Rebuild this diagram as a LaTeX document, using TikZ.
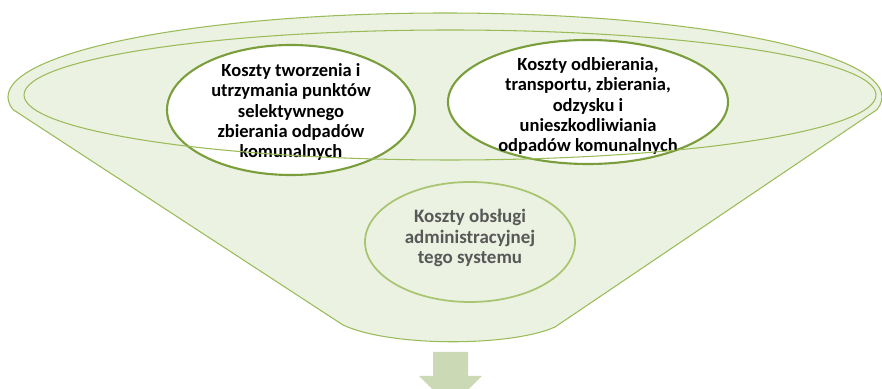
\documentclass[tikz,border=0pt]{standalone}
\usepackage{fontspec}
\setmainfont{Carlito}
\usepackage{tikz}
\usetikzlibrary{calc,shapes.geometric}
\definecolor{olivegreen}{RGB}{155,187,89}
\definecolor{darkolive}{RGB}{122,158,60}
\definecolor{funnelfill}{RGB}{235,242,225}
\definecolor{arrowgreen}{RGB}{203,217,180}
\definecolor{softgray}{RGB}{88,88,88}
\tikzset{
  rim/.style={line width=0.9pt,draw=olivegreen},
  bubble/.style={ellipse,draw=darkolive,fill=white,line width=1.8pt,inner sep=0pt},
  fadedbubble/.style={ellipse,draw=olivegreen!85,line width=1.5pt,inner sep=0pt}
}

\begin{document}
\begin{tikzpicture}[
  boldtext/.style={font=\fontsize{15.8}{17.3}\selectfont\bfseries,align=center,text=black},
  greytext/.style={font=\fontsize{16.2}{17.6}\selectfont\bfseries,align=center,text=softgray}
]
\useasboundingbox (0,0) rectangle (26.46,11.67);

\coordinate (rimc) at (13.35,8.76);
\draw[rim,fill=funnelfill]
  ($(rimc)+(188.6:13.11 and 2.52)$)
    arc[start angle=188.6,end angle=-8.6,x radius=13.11,y radius=2.52]
  -- (16.65,1.86) .. controls (15.30,1.26) and (11.70,1.26) .. (10.29,1.92)
  -- cycle;

\node[bubble,minimum width=7.44cm,minimum height=3.90cm] (tworzenie) at (8.73,8.37) {};
\node[bubble,minimum width=8.40cm,minimum height=3.72cm] (odbieranie) at (17.64,8.61) {};
\node[fadedbubble,minimum width=6.30cm,minimum height=3.60cm] (obsluga) at (14.10,4.41) {};

\node[boldtext] (tworzenieTxt) at ($(tworzenie.center)+(0,-0.06)$)
  {Koszty tworzenia i\\utrzymania punktów\\selektywnego\\zbierania odpadów\\komunalnych};
\node[boldtext] (odbieranieTxt) at ($(odbieranie.center)+(0,-0.12)$)
  {Koszty odbierania,\\transportu, zbierania,\\odzysku i\\unieszkodliwiania\\odpadów komunalnych};
\node[greytext] (obslugaTxt) at ($(obsluga.center)+(0,0.12)$)
  {Koszty obsługi\\administracyjnej\\tego systemu};

\draw[rim] (13.50,8.82) ellipse[x radius=12.78,y radius=1.95];

\coordinate (arr) at (13.515,1.11);
\fill[arrowgreen] ($(arr)+(-0.525,0)$) -- ($(arr)+(0.525,0)$)
  -- ($(arr)+(0.525,-0.72)$) -- ($(arr)+(0.945,-0.72)$)
  -- ($(arr)+(0,-1.665)$)
  -- ($(arr)+(-0.945,-0.72)$) -- ($(arr)+(-0.525,-0.72)$) -- cycle;

\end{tikzpicture}
\end{document}
